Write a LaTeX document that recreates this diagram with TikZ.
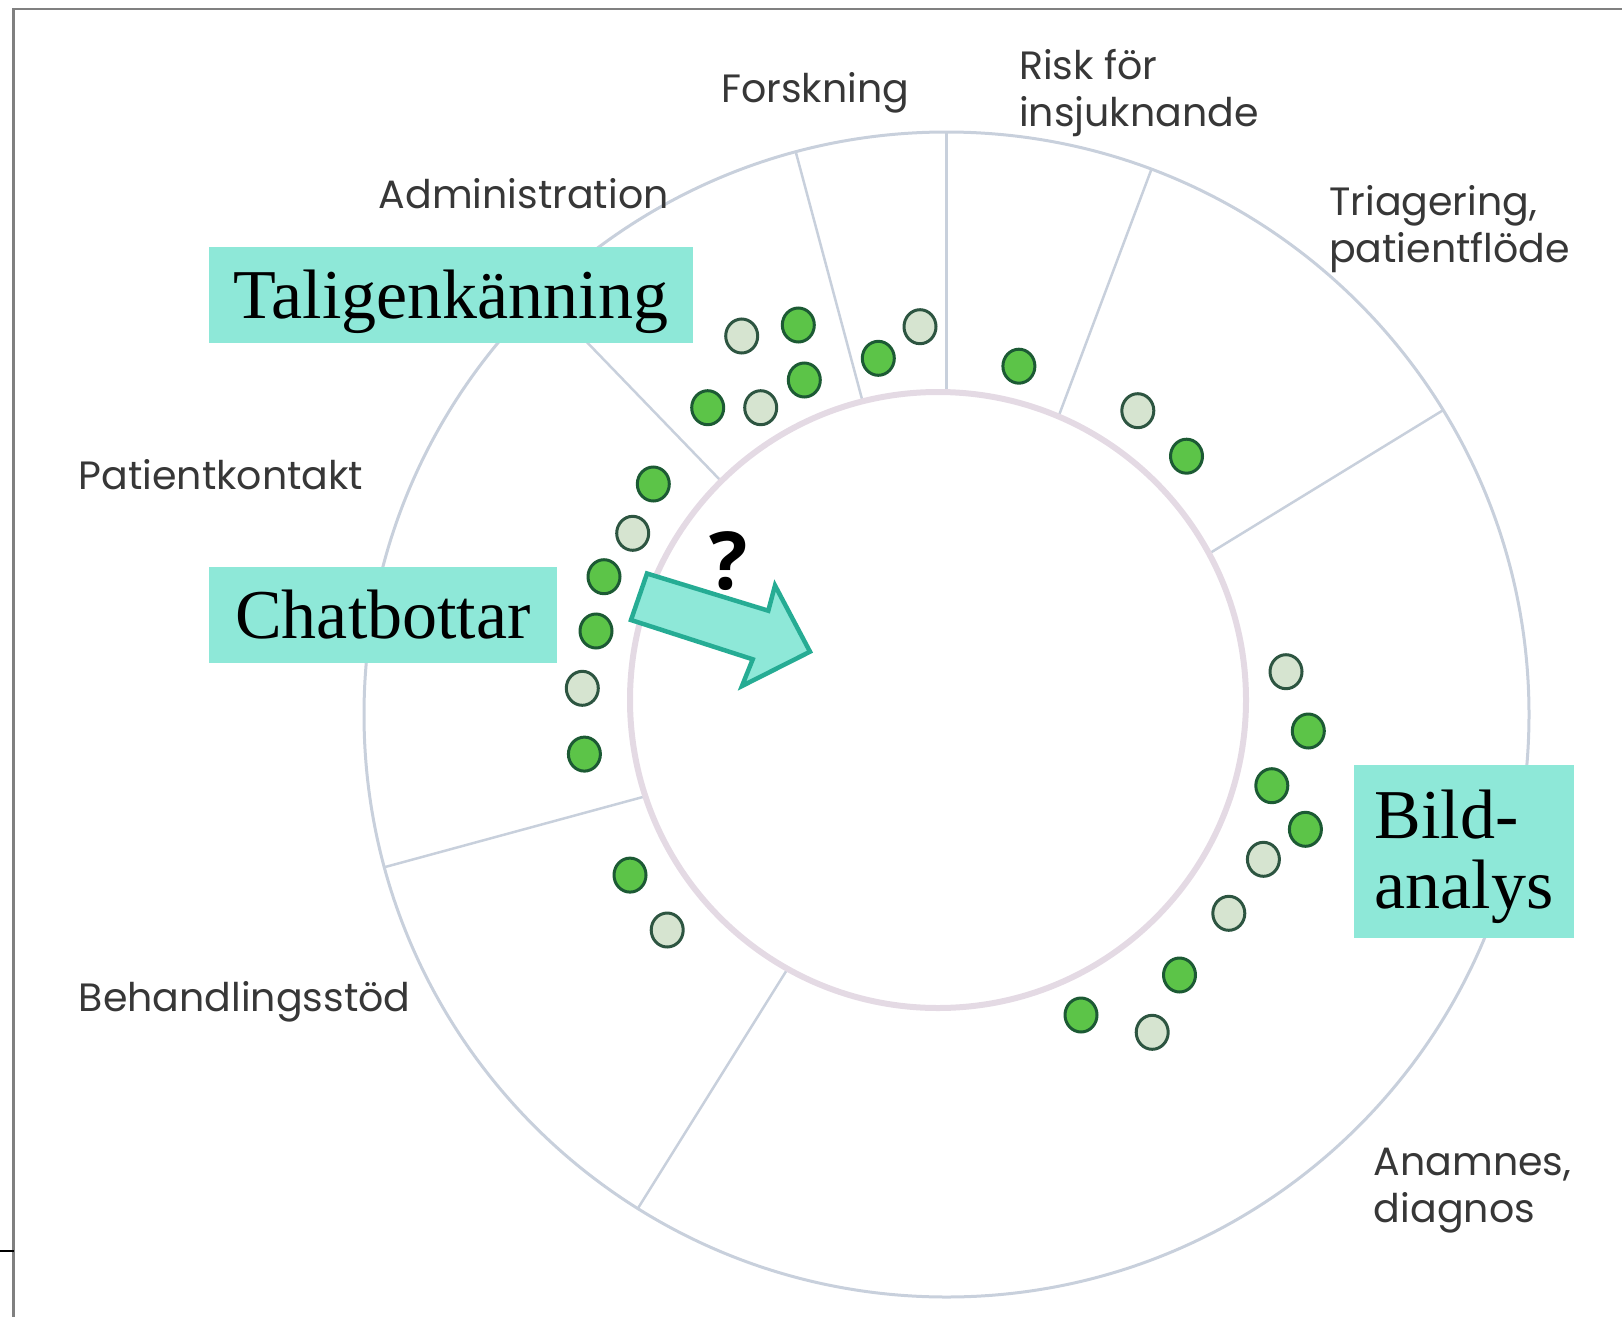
\documentclass[tikz,border=0pt]{standalone}
\usepackage{fontspec}
\setmainfont{Liberation Serif}
\newfontfamily\sectorfont{Poppins}
\newfontfamily\markfont{Open Sans}
\usetikzlibrary{shapes.geometric}

\definecolor{tealfill}{RGB}{142,232,216}
\definecolor{tealline}{RGB}{38,172,148}
\definecolor{dotgreen}{RGB}{92,196,72}
\definecolor{dotpale}{RGB}{214,228,208}
\definecolor{dotline}{RGB}{28,90,52}
\definecolor{paleline}{RGB}{45,85,65}
\definecolor{ringline}{RGB}{200,208,220}
\definecolor{innerline}{RGB}{228,218,228}
\definecolor{labelgray}{RGB}{55,55,55}
\definecolor{framegray}{RGB}{128,128,128}

\begin{document}
\begin{tikzpicture}[x=1pt,y=-1pt,
  gdot/.style={draw=dotline, fill=dotgreen, ellipse, line width=3pt, minimum width=32pt, minimum height=34pt, inner sep=0pt},
  pdot/.style={gdot, draw=paleline, fill=dotpale},
  tag/.style={fill=tealfill, inner sep=0pt, font=\fontsize{70}{70}\selectfont, text height=46pt, text depth=0pt},
  sector/.style={anchor=north west, inner sep=0pt, align=left, text=labelgray, font=\sectorfont\fontsize{39.5}{47}\selectfont},
  divider/.style={draw=ringline, line width=2.5pt}]
\useasboundingbox (0,0) rectangle (1622,1317);

% slide frame
\draw[framegray, line width=2.2pt] (1622,9) -- (13.5,9) -- (13.5,1317);
\draw[black, line width=2.2pt] (0,1251) -- (13.5,1251);

% ring and sectors
\draw[ringline, line width=3pt] (946.5,714.5) circle[radius=582.5];
\begin{scope}[shift={(946.5,714.5)}]
\foreach \a/\r in {-31.5/308, -69.4/318.5, -90/322.4, -105/324, -134/324, 164.8/312, 122/300}
  \draw[divider] (\a:\r) -- (\a:582.5);
\end{scope}
\draw[innerline, line width=6pt] (938,700) circle[radius=308];

% green dots
\node[gdot] (g1) at (798.3,325) {};
\node[gdot] (g2) at (878.3,358.3) {};
\node[gdot] (g3) at (707.7,407.7) {};
\node[gdot] (g4) at (804.3,380) {};
\node[gdot] (g5) at (1018.9,366.2) {};
\node[gdot] (g6) at (1186.5,456.2) {};
\node[gdot] (g7) at (653.3,484) {};
\node[gdot] (g8) at (604,576.7) {};
\node[gdot] (g9) at (596,631) {};
\node[gdot] (g10) at (584.4,754.1) {};
\node[gdot] (g11) at (630,875.1) {};
\node[gdot] (g12) at (1308.3,731) {};
\node[gdot] (g13) at (1271.8,785.7) {};
\node[gdot] (g14) at (1305.4,829.3) {};
\node[gdot] (g15) at (1179.5,975) {};
\node[gdot] (g16) at (1081,1015) {};

% pale dots
\node[pdot] (p1) at (741.7,336) {};
\node[pdot] (p2) at (920,326.7) {};
\node[pdot] (p3) at (760.7,407.7) {};
\node[pdot] (p4) at (1137.8,410.7) {};
\node[pdot] (p5) at (632.7,533.3) {};
\node[pdot] (p6) at (582.3,688.3) {};
\node[pdot] (p7) at (667.2,930) {};
\node[pdot] (p8) at (1286,671.7) {};
\node[pdot] (p9) at (1263.4,859.3) {};
\node[pdot] (p10) at (1228.8,913.3) {};
\node[pdot] (p11) at (1152.2,1032.3) {};

% sector labels
\node[sector] (fors) at (721,72) {Forskning};
\node[sector] (risk) at (1019,49) {Risk för\\insjuknande};
\node[sector] (adm) at (378.6,178) {Administration};
\node[sector] (tri) at (1329,185) {Triagering,\\patientflöde};
\node[sector] (pat) at (78.6,459) {Patientkontakt};
\node[sector] (beh) at (78.6,981) {Behandlingsstöd};
\node[sector] (ana) at (1373.7,1148) {Anamnes,\\diagnos};

% tags
\node[tag, minimum width=484pt, minimum height=96pt] (tal) at (451,295) {Taligenkänning};
\node[tag, minimum width=348pt, minimum height=96pt] (chat) at (383,615) {Chatbottar};
\node[tag, minimum width=220pt, minimum height=173pt, align=left, text height=, text depth=] (bild) at (1464,851.5) {\rule{0pt}{60pt}Bild-\\analys};

% arrow
\draw[fill=tealfill, draw=tealline, line width=4.5pt, line join=miter]
  (647,573.5) -- (768.3,610.7) -- (775,585.5) -- (810,651.7) -- (742,686)
  -- (752.7,659.3) -- (631,620) -- cycle;
\node[font=\markfont\bfseries\fontsize{80}{80}\selectfont] (q) at (729,561) {?};
\end{tikzpicture}
\end{document}
